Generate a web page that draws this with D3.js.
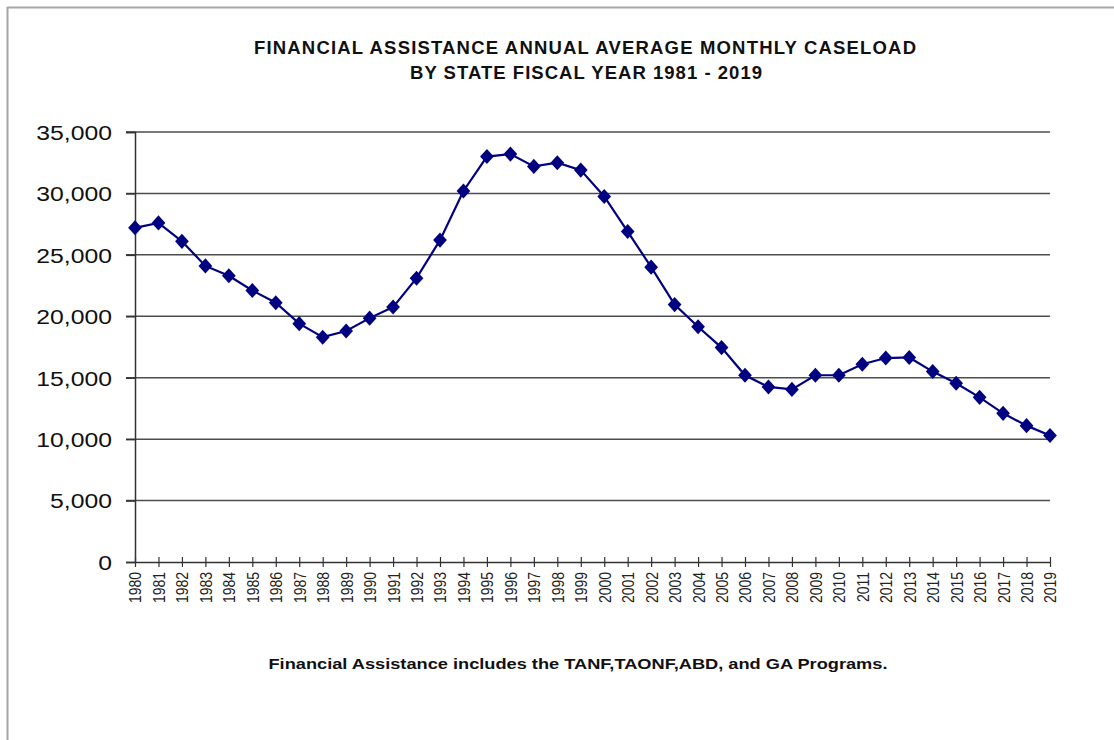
<!DOCTYPE html>
<html>
<head>
<meta charset="utf-8">
<script src="https://cdn.jsdelivr.net/npm/d3@7"></script>
<style>
  html, body { margin: 0; padding: 0; background: #fff; }
  svg { display: block; }
  text { font-family: "Liberation Sans", Arial, sans-serif; }
  .narrow { font-family: "Liberation Sans Narrow", "Arial Narrow", "Liberation Sans", Arial, sans-serif; }
</style>
</head>
<body>
<svg id="chart" width="1114" height="740"></svg>
<script>
const titleLines = ["FINANCIAL ASSISTANCE ANNUAL AVERAGE MONTHLY CASELOAD", "BY STATE FISCAL YEAR 1981 - 2019"];
const footnote = "Financial Assistance includes the TANF,TAONF,ABD, and GA Programs.";
const years = [1980,1981,1982,1983,1984,1985,1986,1987,1988,1989,
               1990,1991,1992,1993,1994,1995,1996,1997,1998,1999,
               2000,2001,2002,2003,2004,2005,2006,2007,2008,2009,
               2010,2011,2012,2013,2014,2015,2016,2017,2018,2019];
const caseload = [27200,27600,26100,24100,23300,22100,21100,19400,18300,18800,
                  19850,20750,23100,26200,30200,33000,33200,32200,32500,31900,
                  29750,26900,24000,20950,19150,17450,15200,14250,14050,15200,
                  15200,16100,16600,16650,15500,14550,13400,12100,11100,10300];
const yTicks = [0,5000,10000,15000,20000,25000,30000,35000];

const svg = d3.select("#chart");
const X0 = 135, X1 = 1050, Y0 = 562, Y1 = 132;
const SX = 1.18;

// outer frame (top + left only visible)
svg.append("line").attr("x1",7).attr("y1",7.5).attr("x2",1114).attr("y2",7.5)
  .attr("stroke","#a6a6a6").attr("stroke-width",2);
svg.append("line").attr("x1",7.5).attr("y1",7).attr("x2",7.5).attr("y2",740)
  .attr("stroke","#a6a6a6").attr("stroke-width",2);

const x = d3.scalePoint().domain(years).range([X0, X1]);
const y = d3.scaleLinear().domain([0,35000]).range([Y0, Y1]);

// gridlines
svg.append("g").selectAll("line").data(yTicks.filter(d => d > 0)).join("line")
  .attr("x1", X0 - 9).attr("x2", X1)
  .attr("y1", d => y(d)).attr("y2", d => y(d))
  .attr("stroke", "#4d4d4d").attr("stroke-width", 1.5);

// y axis
const yAxis = svg.append("g").attr("transform", `translate(${X0},0)`)
  .call(d3.axisLeft(y).tickValues(yTicks).tickSize(9).tickFormat(d3.format(",")));
yAxis.select(".domain").attr("stroke","#333").attr("stroke-width",1.5);
yAxis.selectAll(".tick line").attr("stroke","#333").attr("stroke-width",1.5);
yAxis.selectAll(".tick text").each(function() {
  const t = d3.select(this);
  t.attr("x", null).attr("dy", null)
   .attr("text-anchor","end").attr("dominant-baseline","central")
   .attr("font-size", 21).attr("fill","#111")
   .attr("transform", `translate(-23,0) scale(${SX},1)`);
});

// x axis
const xAxis = svg.append("g").attr("transform", `translate(0,${Y0})`)
  .call(d3.axisBottom(x).tickSizeInner(5).tickSizeOuter(0));
xAxis.select(".domain").attr("stroke","#333").attr("stroke-width",1.5);
xAxis.selectAll(".tick line").attr("y1",-5).attr("y2",5).attr("stroke","#333").attr("stroke-width",1.2);
xAxis.selectAll(".tick text").each(function() {
  const t = d3.select(this);
  t.attr("y", null).attr("dy", null).attr("x", null)
   .attr("text-anchor","end").attr("dominant-baseline","central")
   .attr("font-size", 14).attr("fill","#222")
   .attr("transform", `translate(0,10) scale(${SX},1) rotate(-90)`);
});

// line
svg.append("path").datum(caseload)
  .attr("fill","none").attr("stroke","#000080").attr("stroke-width",2.2)
  .attr("d", d3.line().x((d,i) => x(years[i])).y(d => y(d)));

// markers
svg.append("g").selectAll("path").data(caseload).join("path")
  .attr("d", d3.symbol().type(d3.symbolDiamond2).size(120))
  .attr("transform", (d,i) => `translate(${x(years[i])},${y(d)}) scale(1,1.1)`)
  .attr("fill","#000080");

// title
svg.append("text").attr("class","narrow").attr("x", 585).attr("y", 54).attr("text-anchor","middle")
  .attr("font-size", 18.5).attr("font-weight","bold").attr("fill","#111")
  .attr("textLength", 662).attr("lengthAdjust","spacing")
  .text(titleLines[0]);
svg.append("text").attr("class","narrow").attr("x", 586).attr("y", 79).attr("text-anchor","middle")
  .attr("font-size", 18.5).attr("font-weight","bold").attr("fill","#111")
  .attr("textLength", 352).attr("lengthAdjust","spacing")
  .text(titleLines[1]);

// footnote
svg.append("text").attr("class","narrow").attr("x", 578).attr("y", 669).attr("text-anchor","middle")
  .attr("font-size", 15.5).attr("font-weight","bold").attr("fill","#111")
  .attr("textLength", 619).attr("lengthAdjust","spacingAndGlyphs")
  .text(footnote);
</script>
</body>
</html>
